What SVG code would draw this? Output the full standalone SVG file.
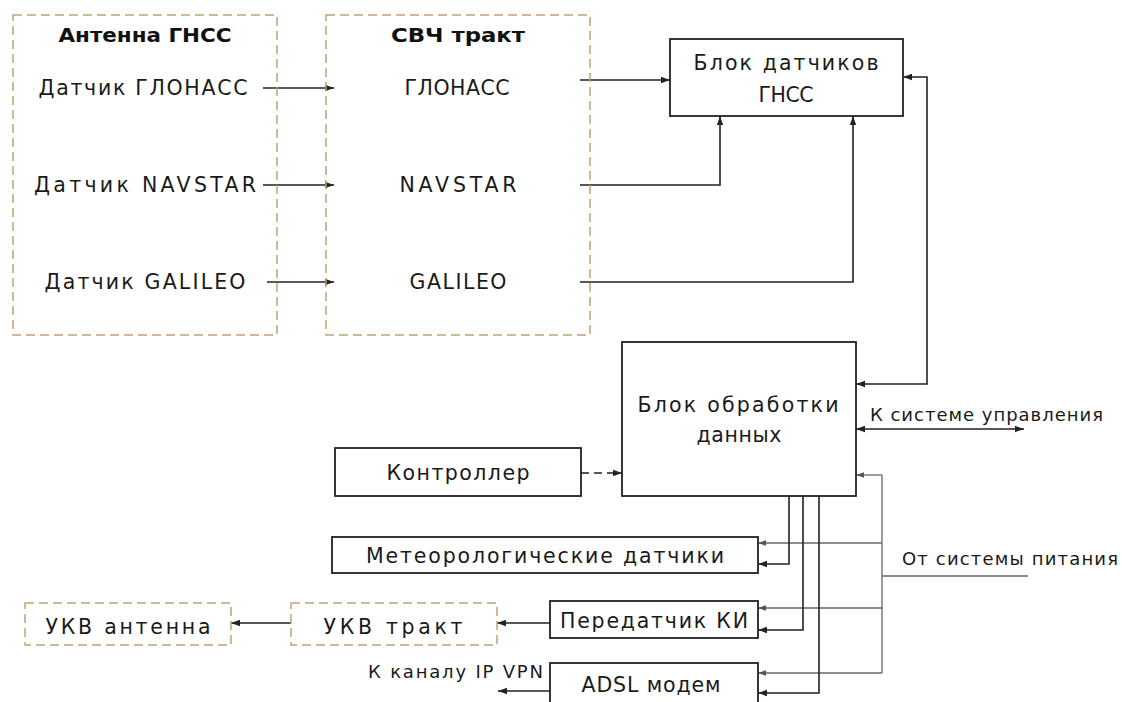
<svg xmlns="http://www.w3.org/2000/svg" width="1122" height="702" viewBox="0 0 1122 702">
<style>
  .bg{fill:#ffffff}
  .box{fill:none;stroke:#222;stroke-width:1.8}
  .dbox{fill:none;stroke:#c4a273;stroke-width:1.5;stroke-dasharray:9 5}
  .t{font-family:"DejaVu Sans","Liberation Sans",sans-serif;font-size:20.5px;fill:#1a1a1a;text-anchor:middle}
  .tb{font-family:"DejaVu Sans","Liberation Sans",sans-serif;font-size:20px;fill:#111;font-weight:bold;text-anchor:middle}
  .ts{font-family:"DejaVu Sans","Liberation Sans",sans-serif;font-size:18px;fill:#1a1a1a}
  .c{fill:none;stroke:#222;stroke-width:1.6}
  .p{fill:none;stroke:#666;stroke-width:1.3}
  .dash{stroke-dasharray:8 5}
</style>
<defs>
  <marker id="ah" viewBox="0 0 10 10" refX="10" refY="5" markerWidth="9" markerHeight="9" markerUnits="userSpaceOnUse" orient="auto-start-reverse">
    <path d="M0,1.5 L10,5 L0,8.5 z" fill="#222"/>
  </marker>
  <marker id="ahg" viewBox="0 0 10 10" refX="10" refY="5" markerWidth="8" markerHeight="8" markerUnits="userSpaceOnUse" orient="auto-start-reverse">
    <path d="M0,1.5 L10,5 L0,8.5 z" fill="#555"/>
  </marker>
</defs>
<rect class="bg" x="0" y="0" width="1122" height="702"/>

<g id="connectors">
  <path class="c" d="M263,88 H334" marker-end="url(#ah)"/>
  <path class="c" d="M263,185 H334" marker-end="url(#ah)"/>
  <path class="c" d="M267,282 H334" marker-end="url(#ah)"/>
  <path class="c" d="M580,80 H670" marker-end="url(#ah)"/>
  <path class="c" d="M580,185 H720 V116" marker-end="url(#ah)"/>
  <path class="c" d="M580,282 H853 V116" marker-end="url(#ah)"/>
  <path class="c" d="M856,384 H927 V77 H903" marker-start="url(#ah)" marker-end="url(#ah)"/>
  <path class="c" d="M856,429 H1024" marker-start="url(#ah)" marker-end="url(#ah)"/>
  <path class="c dash" d="M581,473 H622" marker-end="url(#ah)"/>
  <path class="p" d="M1028,576 H882"/>
  <path class="p" d="M882,475 V673"/>
  <path class="p" d="M882,475 H856" marker-end="url(#ahg)"/>
  <path class="p" d="M882,543 H758" marker-end="url(#ahg)"/>
  <path class="p" d="M882,608 H758" marker-end="url(#ahg)"/>
  <path class="p" d="M882,673 H758" marker-end="url(#ahg)"/>
  <path class="c" d="M789,496 V564 H758" marker-end="url(#ah)"/>
  <path class="c" d="M803,496 V630 H758" marker-end="url(#ah)"/>
  <path class="c" d="M819,496 V693 H758" marker-end="url(#ah)"/>
  <path class="c" d="M550,623 H497" marker-end="url(#ah)"/>
  <path class="c" d="M291,623 H231" marker-end="url(#ah)"/>
  <path class="c" d="M550,691 H498" marker-end="url(#ah)"/>
</g>

<g id="antenna-gnss">
  <rect class="dbox" x="13" y="15" width="264" height="320"/>
  <text class="tb" x="145" y="42" textLength="173" lengthAdjust="spacingAndGlyphs">Антенна ГНСС</text>
  <text class="t" x="143" y="95" textLength="209" lengthAdjust="spacing">Датчик ГЛОНАСС</text>
  <text class="t" x="145" y="192" textLength="222" lengthAdjust="spacing">Датчик NAVSTAR</text>
  <text class="t" x="145" y="289" textLength="201" lengthAdjust="spacing">Датчик GALILEO</text>
</g>

<g id="svch-trakt">
  <rect class="dbox" x="326" y="15" width="264" height="320"/>
  <text class="tb" x="458" y="42" textLength="134" lengthAdjust="spacingAndGlyphs">СВЧ тракт</text>
  <text class="t" x="457" y="95" textLength="105" lengthAdjust="spacing">ГЛОНАСС</text>
  <text class="t" x="458" y="192" textLength="117" lengthAdjust="spacing">NAVSTAR</text>
  <text class="t" x="458" y="289" textLength="97" lengthAdjust="spacing">GALILEO</text>
</g>

<g id="blok-datchikov">
  <rect class="box" x="670" y="39" width="233" height="77"/>
  <text class="t" x="786" y="70" textLength="185" lengthAdjust="spacing">Блок датчиков</text>
  <text class="t" x="786" y="102" textLength="55" lengthAdjust="spacing">ГНСС</text>
</g>

<g id="blok-obrabotki">
  <rect class="box" x="622" y="342" width="234" height="154"/>
  <text class="t" x="738" y="412" textLength="201" lengthAdjust="spacing">Блок обработки</text>
  <text class="t" x="739" y="442" textLength="85" lengthAdjust="spacing">данных</text>
</g>

<g id="label-upravlenie">
  <text class="ts" x="870" y="421" textLength="233" lengthAdjust="spacing">К системе управления</text>
</g>

<g id="kontroller">
  <rect class="box" x="335" y="448" width="246" height="48"/>
  <text class="t" x="458" y="480" textLength="143" lengthAdjust="spacing">Контроллер</text>
</g>

<g id="meteo">
  <rect class="box" x="332" y="537" width="426" height="36"/>
  <text class="t" x="545" y="563" textLength="358" lengthAdjust="spacing">Метеорологические датчики</text>
</g>

<g id="label-pitanie">
  <text class="ts" x="902" y="565" textLength="216" lengthAdjust="spacing">От системы питания</text>
</g>

<g id="peredatchik">
  <rect class="box" x="550" y="601" width="208" height="37"/>
  <text class="t" x="654" y="628" textLength="188" lengthAdjust="spacing">Передатчик КИ</text>
</g>

<g id="ukv-trakt">
  <rect class="dbox" x="291" y="603" width="206" height="42"/>
  <text class="t" x="393" y="634" textLength="139" lengthAdjust="spacing">УКВ тракт</text>
</g>

<g id="ukv-antenna">
  <rect class="dbox" x="25" y="603" width="206" height="42"/>
  <text class="t" x="128" y="634" textLength="165" lengthAdjust="spacing">УКВ антенна</text>
</g>

<g id="adsl">
  <rect class="box" x="550" y="663" width="208" height="50"/>
  <text class="t" x="651" y="692" textLength="139" lengthAdjust="spacing">ADSL модем</text>
</g>

<g id="label-vpn">
  <text class="ts" x="368" y="678" textLength="175" lengthAdjust="spacing">К каналу IP VPN</text>
</g>
</svg>
